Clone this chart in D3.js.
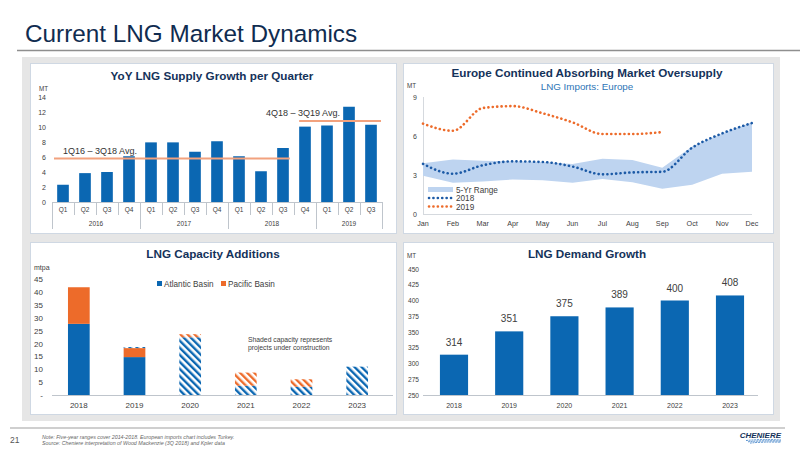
<!DOCTYPE html>
<html><head><meta charset="utf-8">
<script src="https://cdn.jsdelivr.net/npm/d3@7"></script>
<style>body{margin:0;background:#fff;} svg{display:block;font-family:"Liberation Sans",Arial,Helvetica,sans-serif;}</style>
</head><body><svg id="c" width="800" height="450"></svg>
<script>
// ---------- DATA ----------
const pageTitle = "Current LNG Market Dynamics";

// Chart 1: YoY LNG supply growth per quarter
const quarterLabels = ["Q1","Q2","Q3","Q4","Q1","Q2","Q3","Q4","Q1","Q2","Q3","Q4","Q1","Q2","Q3"];
const supplyGrowth = [2.3,3.85,4.0,6.1,7.95,7.95,6.7,8.1,6.1,4.1,7.2,10.05,10.2,12.7,10.3];
const yearGroups = ["2016","2017","2018","2019"];
const yearGroupSizes = [4,4,4,3];
const supplyTicks = [0,2,4,6,8,10,12,14];
const avgLabels = ["1Q16 \u2013 3Q18 Avg.","4Q18 \u2013 3Q19 Avg."];
const avgValues = [5.8, 10.8];
const avgFrom = [0, 11];
const avgTo = [10, 14];

// Chart 2: Europe LNG imports
const months = ["Jan","Feb","Mar","Apr","May","Jun","Jul","Aug","Sep","Oct","Nov","Dec"];
const imports2018 = [3.85,3.1,3.75,4.05,4.0,3.65,3.05,3.2,3.25,5.1,6.2,7.0];
const imports2019 = [6.95,6.4,8.15,8.3,7.75,7.05,6.15,6.15,6.3];
const rangeHigh = [3.9,4.2,4.1,4.05,4.0,3.85,4.25,4.15,3.55,5.2,6.2,7.05];
const rangeLow  = [2.95,2.4,2.5,2.65,2.6,2.4,2.7,2.45,1.95,2.25,3.1,3.25];
const importTicks = [0,3,6,9];

// Chart 3: LNG capacity additions (mtpa)
const capYears = ["2018","2019","2020","2021","2022","2023"];
const atlanticBuilt = [27.6,14.7,0,0,0,0];
const pacificBuilt  = [14.2,3.5,0,0,0,0];
const atlanticConstr = [0,0.4,22.4,3.6,3.2,11.0];
const pacificConstr  = [0,0,1.2,5.1,2.9,0];
const capTicks = [0,5,10,15,20,25,30,35,40,45];

// Chart 4: LNG demand growth (MT)
const demandYears = ["2018","2019","2020","2021","2022","2023"];
const demand = [314,351,375,389,400,408];
const demandTicks = [250,275,300,325,350,375,400,425,450];

// ---------- STYLE ----------
const NAVY = "#14325a", BLUE = "#0b67b2", ORANGE = "#ed6b2a", TXT = "#404040", AXIS = "#bfc5cc";
const svg = d3.select("#c");
const defs = svg.append("defs");
function hatch(id, color){
  const p = defs.append("pattern").attr("id", id).attr("patternUnits","userSpaceOnUse")
    .attr("width", 5).attr("height", 5).attr("patternTransform","rotate(-45)");
  p.append("rect").attr("width",5).attr("height",5).attr("fill","#fff");
  p.append("rect").attr("x",0).attr("y",0).attr("width",2.4).attr("height",5).attr("fill",color);
}
hatch("hB", BLUE); hatch("hO", ORANGE);

// page
svg.append("text").attr("x",25).attr("y",42).attr("font-size",24.3).attr("fill","#102c50").text(pageTitle);
svg.append("line").attr("x1",17).attr("x2",800).attr("y1",50.5).attr("y2",50.5).attr("stroke","#8f8f8f").attr("stroke-width",1.5);
svg.append("rect").attr("x",22).attr("y",57).attr("width",758).attr("height",364).attr("fill","#e6e6e6");
const panels = [[30,63,366,170],[403,63,370,170],[30,242,366,172],[403,242,370,172]];
panels.forEach(p=>svg.append("rect").attr("x",p[0]+0.5).attr("y",p[1]+0.5).attr("width",p[2]).attr("height",p[3])
  .attr("fill","#fff").attr("stroke","#cfd8e3"));

function title(x,y,t){ svg.append("text").attr("x",x).attr("y",y).attr("text-anchor","middle")
  .attr("font-size",11.7).attr("font-weight","bold").attr("fill",NAVY).text(t); }
function small(x,y,t,size,anchor,color){ return svg.append("text").attr("x",x).attr("y",y).attr("font-size",size)
  .attr("text-anchor",anchor||"start").attr("fill",color||TXT).text(t); }
function yAxis(scale, x, ticks, fmt, size, pad){
  const g = svg.append("g").attr("transform",`translate(${x},0)`)
    .call(d3.axisLeft(scale).tickValues(ticks).tickSize(0).tickPadding(pad).tickFormat(fmt||d3.format("d")));
  g.select(".domain").remove();
  g.selectAll("text").attr("font-size",size).attr("fill",TXT).attr("font-family",null);
  return g;
}

// ---------- CHART 1 ----------
title(212,80,"YoY LNG Supply Growth per Quarter");
small(39,91,"MT",6.3);
const x1 = d3.scaleBand().domain(d3.range(supplyGrowth.length)).range([52,382]).paddingInner(0.47).paddingOuter(0.235);
const y1 = d3.scaleLinear().domain([0,14]).range([202,97]);
yAxis(y1, 50, supplyTicks, null, 7, 4);
svg.append("g").selectAll("rect").data(supplyGrowth).join("rect")
  .attr("x",(d,i)=>x1(i)).attr("width",x1.bandwidth()).attr("y",d=>y1(d)).attr("height",d=>y1(0)-y1(d)).attr("fill",BLUE);
svg.append("line").attr("x1",52).attr("x2",382).attr("y1",y1(0)+0.5).attr("y2",y1(0)+0.5).attr("stroke",AXIS);
const step1 = x1.step();
const boundaries = d3.range(supplyGrowth.length+1);
let cum = [0]; yearGroupSizes.forEach(s=>cum.push(cum[cum.length-1]+s));
boundaries.forEach(b=>{
  const xx = Math.round(52 + b*step1)+0.5;
  const long = cum.includes(b);
  svg.append("line").attr("x1",xx).attr("x2",xx).attr("y1",y1(0)).attr("y2",long?229:215).attr("stroke",AXIS);
});
svg.append("g").selectAll("text").data(quarterLabels).join("text")
  .attr("x",(d,i)=>x1(i)+x1.bandwidth()/2).attr("y",212).attr("text-anchor","middle")
  .attr("font-size",6.5).attr("fill",TXT).text(d=>d);
yearGroups.forEach((yr,i)=>{
  small(52 + (cum[i]+cum[i+1])/2*step1, 226, yr, 6.5, "middle");
});
avgValues.forEach((v,i)=>{
  const xa = i===0 ? 54 : x1(avgFrom[i]);
  const xb = i===0 ? x1(avgTo[i])+x1.bandwidth()+1 : 381;
  svg.append("line").attr("x1",xa).attr("x2",xb).attr("y1",y1(v)).attr("y2",y1(v)).attr("stroke","#f2a27e").attr("stroke-width",2);
  small(i===0?63:266, y1(v)-5, avgLabels[i], 9, "start", "#333");
});

// ---------- CHART 2 ----------
title(587,77,"Europe Continued Absorbing Market Oversupply");
small(587,90,"LNG Imports: Europe",9.8,"middle","#2e75b6");
small(407,88,"MT",6.3);
const x2 = d3.scalePoint().domain(months).range([423,752]);
const y2 = d3.scaleLinear().domain([0,9]).range([214,97]);
yAxis(y2, 423, importTicks, null, 7, 6);
svg.append("line").attr("x1",423.5).attr("x2",423.5).attr("y1",97).attr("y2",214).attr("stroke","#d5d9de");
svg.append("line").attr("x1",423).attr("x2",752).attr("y1",214.5).attr("y2",214.5).attr("stroke","#d5d9de");
const area = d3.area().x((d,i)=>x2(months[i])).y0((d,i)=>y2(rangeLow[i])).y1(d=>y2(d));
svg.append("path").datum(rangeHigh).attr("d",area).attr("fill","#bed4f0");
const line = d3.line().x((d,i)=>x2(months[i])).y(d=>y2(d)).curve(d3.curveMonotoneX);
svg.append("path").datum(imports2018).attr("d",line).attr("fill","none").attr("stroke","#1c5aa6")
  .attr("stroke-width",2.6).attr("stroke-dasharray","0.1 4.3").attr("stroke-linecap","round");
svg.append("path").datum(imports2019).attr("d",line).attr("fill","none").attr("stroke",ORANGE)
  .attr("stroke-width",2.6).attr("stroke-dasharray","0.1 4.3").attr("stroke-linecap","round");
svg.append("g").selectAll("text").data(months).join("text")
  .attr("x",d=>x2(d)).attr("y",226).attr("text-anchor","middle").attr("font-size",7.2).attr("fill",TXT).text(d=>d);
// legend
svg.append("rect").attr("x",428).attr("y",187).attr("width",25).attr("height",5).attr("fill","#bed4f0");
small(456,193,"5-Yr Range",8.2);
[["2018","#1c5aa6",201],["2019",ORANGE,209.5]].forEach(l=>{
  svg.append("line").attr("x1",429).attr("x2",453).attr("y1",l[2]-3).attr("y2",l[2]-3).attr("stroke",l[1])
    .attr("stroke-width",2.6).attr("stroke-dasharray","0.1 4.3").attr("stroke-linecap","round");
  small(456,l[2],l[0],8.2);
});

// ---------- CHART 3 ----------
title(213,258,"LNG Capacity Additions");
small(34,270,"mtpa",7);
const x3 = d3.scaleBand().domain(capYears).range([51,385]).paddingInner(0.61).paddingOuter(0.305);
const y3 = d3.scaleLinear().domain([0,45]).range([395,279]);
yAxis(y3, 50, capTicks, d=>d===0?"-":d, 8, 7);
const capRows = capYears.map((y,i)=>({year:y, ab:atlanticBuilt[i], pb:pacificBuilt[i], ac:atlanticConstr[i], pc:pacificConstr[i]}));
const keys = ["ab","pb","ac","pc"];
const fills = {ab:BLUE, pb:ORANGE, ac:"url(#hB)", pc:"url(#hO)"};
const stack = d3.stack().keys(keys)(capRows);
svg.append("g").selectAll("g").data(stack).join("g").attr("fill",d=>fills[d.key])
  .selectAll("rect").data(d=>d).join("rect")
  .attr("x",d=>x3(d.data.year)).attr("width",x3.bandwidth())
  .attr("y",d=>y3(d[1])).attr("height",d=>Math.max(0,y3(d[0])-y3(d[1])));
svg.append("line").attr("x1",52).attr("x2",393).attr("y1",395.5).attr("y2",395.5).attr("stroke",AXIS);
svg.append("g").selectAll("text").data(capYears).join("text")
  .attr("x",d=>x3(d)+x3.bandwidth()/2).attr("y",408).attr("text-anchor","middle").attr("font-size",8).attr("fill",TXT).text(d=>d);
svg.append("rect").attr("x",157).attr("y",281).attr("width",5).attr("height",5).attr("fill",BLUE);
small(164,287,"Atlantic Basin",8.2);
svg.append("rect").attr("x",221).attr("y",281).attr("width",5).attr("height",5).attr("fill",ORANGE);
small(228,287,"Pacific Basin",8.2);
small(248,342,"Shaded capacity represents",6.8);
small(248,350,"projects under construction",6.8);

// ---------- CHART 4 ----------
title(587,258,"LNG Demand Growth");
small(407,258,"MT",6.3);
const x4 = d3.scaleBand().domain(demandYears).range([426.4,757.6]).paddingInner(0.49).paddingOuter(0.245);
const y4 = d3.scaleLinear().domain([250,450]).range([395,269]);
yAxis(y4, 423, demandTicks, null, 6.6, 4);
svg.append("g").selectAll("rect").data(demand).join("rect")
  .attr("x",(d,i)=>x4(demandYears[i])).attr("width",x4.bandwidth()).attr("y",d=>y4(d)).attr("height",d=>y4(250)-y4(d)).attr("fill",BLUE);
svg.append("line").attr("x1",423).attr("x2",758).attr("y1",395.5).attr("y2",395.5).attr("stroke",AXIS);
svg.append("g").selectAll("text").data(demand).join("text")
  .attr("x",(d,i)=>x4(demandYears[i])+x4.bandwidth()/2).attr("y",d=>y4(d)-9).attr("text-anchor","middle")
  .attr("font-size",10).attr("fill",TXT).text(d=>d);
svg.append("g").selectAll("text.xl").data(demandYears).join("text")
  .attr("x",d=>x4(d)+x4.bandwidth()/2).attr("y",408).attr("text-anchor","middle").attr("font-size",7).attr("fill",TXT).text(d=>d);

// ---------- FOOTER ----------
svg.append("line").attr("x1",10).attr("x2",785).attr("y1",428).attr("y2",428).attr("stroke","#a0a0a0").attr("stroke-width",1.2);
small(10,443,"21",8.5,"start","#555");
small(42,438.5,"Note: Five-year ranges cover 2014-2018. European imports chart includes Turkey.",5.3,"start","#666").attr("font-style","italic");
small(42,444.5,"Source: Cheniere interpretation of Wood Mackenzie (3Q 2018) and Kpler data",5.3,"start","#666").attr("font-style","italic");
small(781,438,"CHENIERE",8,"end",NAVY).attr("font-weight","bold").attr("font-style","italic");
[0,1,2].forEach(k=>{
  svg.append("path").attr("d",`M${746+k*2},${440.5+k*1.3} Q${762},${439+k*1.3} ${781},${440+k*1.1}`)
    .attr("fill","none").attr("stroke","#2a72c0").attr("stroke-width",0.8).attr("stroke-dasharray","2 0.8");
});
</script></body></html>
